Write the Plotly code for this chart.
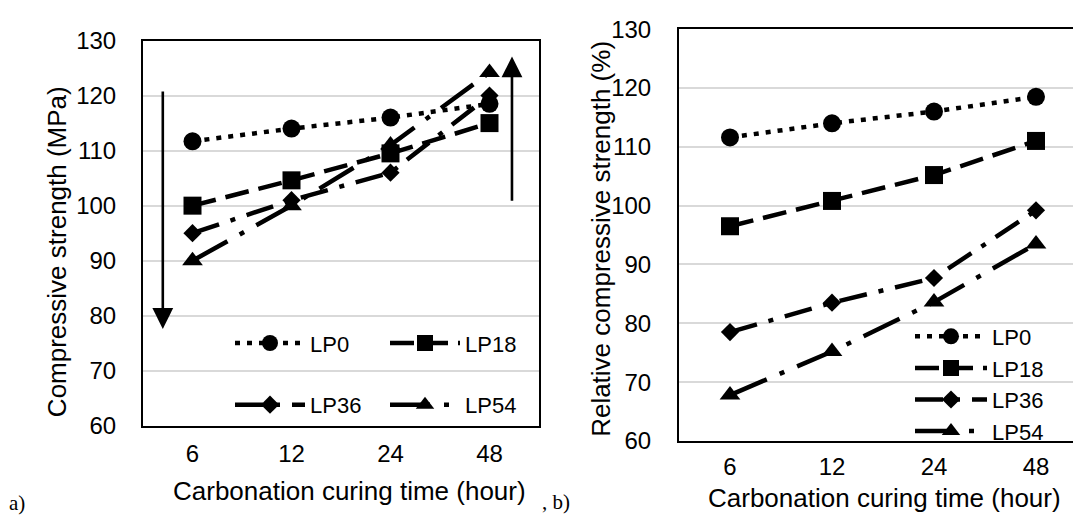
import plotly.graph_objects as go

# ---------------- data ----------------
categories = ["6", "12", "24", "48"]
series_names = ["LP0", "LP18", "LP36", "LP54"]

strength_LP0 = [111.7, 114.0, 116.0, 118.5]
strength_LP18 = [100.0, 104.6, 109.5, 115.0]
strength_LP36 = [95.0, 101.0, 106.0, 120.0]
strength_LP54 = [90.0, 100.0, 111.0, 124.2]

relative_LP0 = [111.6, 114.0, 116.0, 118.5]
relative_LP18 = [96.5, 100.8, 105.2, 111.0]
relative_LP36 = [78.5, 83.5, 87.7, 99.2]
relative_LP54 = [67.8, 75.2, 83.6, 93.5]

y_ticks = [60, 70, 80, 90, 100, 110, 120, 130]

# ---------------- styles ----------------
FONT = "Liberation Sans, Arial, sans-serif"
styles = {
    "LP0": dict(dash="5px,7px", symbol="circle", size=18),
    "LP18": dict(dash="24px,10px", symbol="square", size=18),
    "LP36": dict(dash="28px,12px,5px,12px", symbol="diamond", size=14),
    "LP54": dict(dash="40px,14px,5px,14px", symbol="triangle-up", size=18),
}
LW = 4.5

xpos = list(range(len(categories)))

fig = go.Figure()

left_data = [strength_LP0, strength_LP18, strength_LP36, strength_LP54]
right_data = [relative_LP0, relative_LP18, relative_LP36, relative_LP54]
left_legends = ["legend", "legend", "legend2", "legend2"]

for name, vals, lg in zip(series_names, left_data, left_legends):
    st = styles[name]
    fig.add_trace(go.Scatter(
        x=xpos, y=vals, name=name, mode="lines+markers",
        line=dict(color="black", width=LW, dash=st["dash"]),
        marker=dict(symbol=st["symbol"], size=st["size"], color="black"),
        xaxis="x", yaxis="y", legend=lg, cliponaxis=False,
    ))

for name, vals in zip(series_names, right_data):
    st = styles[name]
    fig.add_trace(go.Scatter(
        x=xpos, y=vals, name=name, mode="lines+markers",
        line=dict(color="black", width=LW, dash=st["dash"]),
        marker=dict(symbol=st["symbol"], size=st["size"], color="black"),
        xaxis="x2", yaxis="y2", legend="legend3", cliponaxis=False,
    ))

W, H = 1073, 527

def px_x(p):
    return p / W

def px_y(p):
    return 1 - p / H

axis_common = dict(
    showgrid=False, zeroline=False, linecolor="black", linewidth=2,
    tickfont=dict(family=FONT, size=24, color="black"), ticks="",
)

right_x_end = -0.5 + (W - 679) / 102.0

legend_font = dict(family=FONT, size=22, color="black")

fig.update_layout(
    width=W, height=H,
    margin=dict(l=0, r=0, t=0, b=0),
    paper_bgcolor="white", plot_bgcolor="white",
    font=dict(family=FONT, color="black"),
    xaxis=dict(axis_common, domain=[px_x(143), px_x(539)], range=[-0.5, 3.5],
               tickvals=xpos, ticktext=categories, showline=True, mirror=True,
               ticklabelstandoff=5, anchor="y"),
    yaxis=dict(axis_common, domain=[px_y(434), px_y(28)], range=[60, 130],
               tickvals=y_ticks, showline=True, mirror=True,
               showgrid=True, gridcolor="#d9d9d9", gridwidth=1.5,
               ticklabelstandoff=20, anchor="x"),
    xaxis2=dict(axis_common, domain=[px_x(679), 1.0], range=[-0.5, right_x_end],
                tickvals=xpos, ticktext=categories, showline=True, mirror=True,
                ticklabelstandoff=3, anchor="y2"),
    yaxis2=dict(axis_common, domain=[px_y(450), px_y(16)], range=[60, 130],
                tickvals=y_ticks, showline=True, mirror=False,
                showgrid=True, gridcolor="#d9d9d9", gridwidth=1.5,
                ticklabelstandoff=21, anchor="x2"),
    legend=dict(orientation="h", x=px_x(230), y=px_y(347), xanchor="left", yanchor="middle",
                itemwidth=70, entrywidth=70, bgcolor="rgba(0,0,0,0)",
                font=legend_font, tracegroupgap=0),
    legend2=dict(orientation="h", x=px_x(230), y=px_y(412), xanchor="left", yanchor="middle",
                 itemwidth=70, entrywidth=70, bgcolor="rgba(0,0,0,0)",
                 font=legend_font, tracegroupgap=0),
    legend3=dict(orientation="v", x=px_x(910), y=px_y(390), xanchor="left", yanchor="middle",
                 itemwidth=72, bgcolor="rgba(0,0,0,0)",
                 font=legend_font, tracegroupgap=0),
    showlegend=True,
)

# axis titles
title_font = dict(family=FONT, size=26, color="black")
fig.add_annotation(text="Compressive strength (MPa)", xref="paper", yref="paper",
                   x=px_x(57), y=px_y(251), textangle=-90, showarrow=False,
                   font=title_font, xanchor="center", yanchor="middle")
fig.add_annotation(text="Relative compressive strength (%)", xref="paper", yref="paper",
                   x=px_x(601), y=px_y(237), textangle=-90, showarrow=False,
                   font=title_font, xanchor="center", yanchor="middle")
fig.add_annotation(text="Carbonation curing time (hour)", xref="paper", yref="paper",
                   x=px_x(349), y=px_y(503), showarrow=False,
                   font=title_font, xanchor="center", yanchor="middle")
fig.add_annotation(text="Carbonation curing time (hour)", xref="paper", yref="paper",
                   x=px_x(884), y=px_y(510), showarrow=False,
                   font=title_font, xanchor="center", yanchor="middle")

serif = dict(family="Liberation Serif, Times New Roman, serif", size=21, color="black")
fig.add_annotation(text="a)", xref="paper", yref="paper", x=px_x(7), y=px_y(515),
                   showarrow=False, font=serif, xanchor="left", yanchor="middle")
fig.add_annotation(text=", b)", xref="paper", yref="paper", x=px_x(540), y=px_y(514),
                   showarrow=False, font=serif, xanchor="left", yanchor="middle")

# arrows (left panel)
arrow_down = dict(x=-0.3, tail=121.0, tip=77.6)
arrow_up = dict(x=3.227, tail=100.6, tip=127.1)
for a in (arrow_down, arrow_up):
    fig.add_annotation(x=a["x"], y=a["tip"], ax=a["x"], ay=a["tail"],
                       xref="x", yref="y", axref="x", ayref="y", text="",
                       showarrow=True, arrowhead=2, arrowsize=1.6, arrowwidth=2.6,
                       arrowcolor="black", standoff=0)

fig.write_html("out.html", config={"displayModeBar": False})
